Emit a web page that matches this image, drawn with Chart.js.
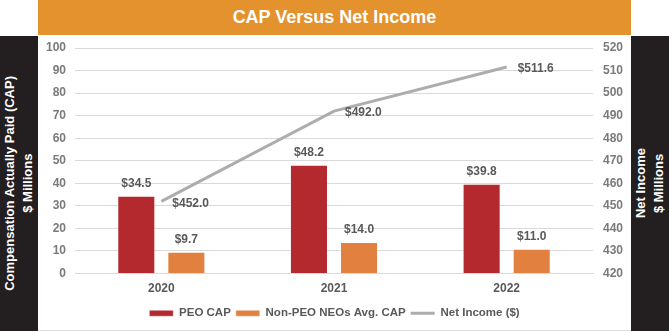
<!DOCTYPE html>
<html lang="en">
<head>
    <meta charset="UTF-8">
    <title>CAP Versus Net Income</title>
    <script src="https://cdn.jsdelivr.net/npm/chart.js"></script>
    <style>
        body { margin: 0; background: #ffffff; font-family: "Liberation Sans", Arial, sans-serif; }
        .wrap { position: relative; width: 669px; height: 331px; overflow: hidden; }
        .title { position: absolute; left: 38px; top: 0; width: 593px; height: 35px; background: #e3922e; color: #fff;
                 font-weight: bold; font-size: 18px; line-height: 35px; text-align: center; }
        .band { position: absolute; top: 36px; width: 38px; height: 295px; background: #231f20; color: #fff;
                display: flex; align-items: center; justify-content: center; }
        .band span { writing-mode: vertical-rl; transform: rotate(180deg); font-weight: bold; font-size: 13px;
                     line-height: 18px; text-align: center; white-space: nowrap; }
        #left { left: 0; }
        #right { left: 631px; }
        .chart-box { position: absolute; left: 38px; top: 35px; width: 593px; height: 295px; border-bottom: 1px solid #dedede; }
    </style>
</head>
<body>
<div class="wrap">
    <div class="title">CAP Versus Net Income</div>
    <div class="band" id="left"><span>Compensation Actually Paid (CAP)<br>$ Millions</span></div>
    <div class="band" id="right"><span>Net Income<br>$ Millions</span></div>
    <div class="chart-box"><canvas id="capChart" width="593" height="295"></canvas></div>
</div>
<script>
    const years = ['2020', '2021', '2022'];
    const peoCap = [34.5, 48.2, 39.8];
    const nonPeoCap = [9.7, 14.0, 11.0];
    const netIncome = [452.0, 492.0, 511.6];
    const capTicks = [0, 100, 10];
    const incomeTicks = [420, 520, 10];

    const labelFont = 'bold 12px "Liberation Sans", Arial, sans-serif';

    // value labels, the datalabels plugin is not around
    const valueLabels = {
        id: 'valueLabels',
        afterDatasetsDraw(chart) {
            const ctx = chart.ctx;
            ctx.save();
            ctx.font = labelFont;
            ctx.fillStyle = '#595959';
            ctx.textBaseline = 'middle';
            chart.data.datasets.forEach((ds, i) => {
                const meta = chart.getDatasetMeta(i);
                meta.data.forEach((el, j) => {
                    const txt = '$' + ds.data[j].toFixed(1);
                    if (ds.type === 'line') {
                        ctx.textAlign = 'left';
                        ctx.fillText(txt, el.x + 11, el.y + 2);
                    } else {
                        ctx.textAlign = 'center';
                        ctx.fillText(txt, el.x, el.y - 12);
                    }
                });
            });
            ctx.restore();
        }
    };

    // fixed widths so the plot sits where the original does
    function sideAxis(w) {
        return function (s) { s.width = w; s.paddingTop = 13; s.paddingBottom = 0; };
    }

    new Chart(document.getElementById('capChart'), {
        type: 'bar',
        data: {
            labels: years,
            datasets: [
                { label: 'PEO CAP', data: peoCap, backgroundColor: '#b4292e', borderColor: 'rgba(255,255,255,0.45)',
                  borderWidth: 1, yAxisID: 'y', pointStyle: 'rect', categoryPercentage: 0.58, barPercentage: 0.76 },
                { label: 'Non-PEO NEOs Avg. CAP', data: nonPeoCap, backgroundColor: '#e2803f', borderColor: 'rgba(255,255,255,0.45)',
                  borderWidth: 1, yAxisID: 'y', pointStyle: 'rect', categoryPercentage: 0.58, barPercentage: 0.76 },
                { type: 'line', label: 'Net Income ($)', data: netIncome, borderColor: '#adadad', backgroundColor: '#adadad',
                  borderWidth: 3, pointRadius: 0, tension: 0, yAxisID: 'y1', pointStyle: 'line' }
            ]
        },
        options: {
            responsive: false,
            animation: false,
            layout: { padding: { top: 0, bottom: 1 } },
            plugins: {
                tooltip: { enabled: false },
                legend: {
                    position: 'bottom',
                    labels: {
                        usePointStyle: true, pointStyleWidth: 24, boxWidth: 24, boxHeight: 6, padding: 5,
                        color: '#595959', font: { family: '"Liberation Sans", Arial, sans-serif', size: 11.5, weight: 'bold' }
                    }
                }
            },
            scales: {
                x: {
                    afterFit(s) { s.height = 29; },
                    grid: { display: false, drawTicks: false },
                    border: { color: '#d9d9d9' },
                    ticks: { color: '#595959', padding: 8, font: { family: '"Liberation Sans", Arial, sans-serif', size: 12, weight: 'bold' } }
                },
                y: {
                    position: 'left', min: capTicks[0], max: capTicks[1],
                    afterFit: sideAxis(37),
                    grid: { color: '#d9d9d9', drawTicks: false },
                    border: { display: false },
                    ticks: { stepSize: capTicks[2], padding: 9, color: '#7a7a7a', font: { family: '"Liberation Sans", Arial, sans-serif', size: 12, weight: 'bold' } }
                },
                y1: {
                    position: 'right', min: incomeTicks[0], max: incomeTicks[1],
                    afterFit: sideAxis(38),
                    grid: { display: false, drawTicks: false },
                    border: { display: false },
                    ticks: { stepSize: incomeTicks[2], padding: 10, color: '#7a7a7a', font: { family: '"Liberation Sans", Arial, sans-serif', size: 12, weight: 'bold' } }
                }
            }
        },
        plugins: [valueLabels]
    });
</script>
</body>
</html>
